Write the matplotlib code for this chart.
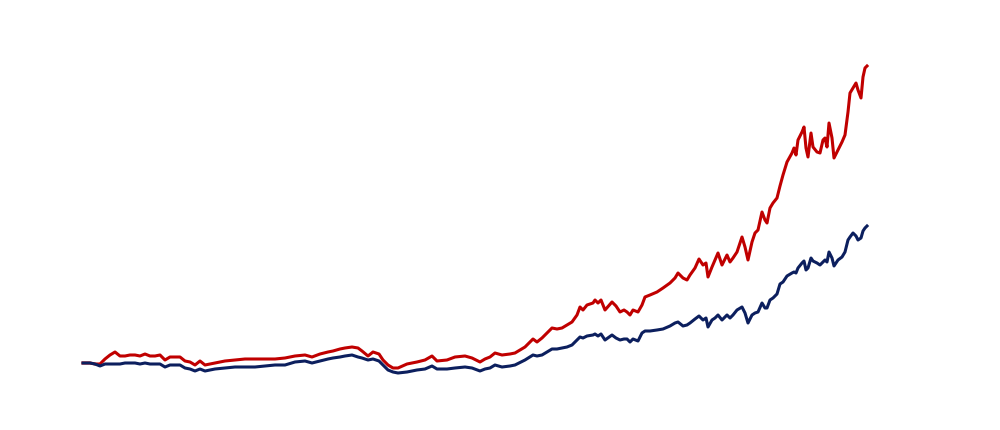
import matplotlib
matplotlib.use("Agg")
import matplotlib.pyplot as plt

# time index (arbitrary units along the period) and index levels of both series
t = [0, 7, 12, 17, 22, 27, 32, 37, 42, 47, 52, 57, 62, 67, 72, 77, 82, 87, 92, 97,
     102, 107, 112, 117, 122, 132, 142, 152, 162, 172, 182, 192, 202, 212, 222, 229,
     237, 245, 250, 257, 262, 269, 275, 279, 285, 290, 296, 300, 305, 310, 315, 324,
     334, 342, 349, 354, 364, 372, 382, 389, 397, 402, 407, 412, 419, 427, 432, 442,
     450, 454, 459, 464, 469, 474, 479, 484, 489, 494, 497, 500, 504, 510, 512, 515,
     518, 522, 529, 533, 537, 541, 544, 547, 550, 555, 559, 562, 567, 574, 580, 587,
     592, 595, 600, 604, 607, 612, 616, 620, 623, 625, 629, 632, 635, 639, 644, 647,
     650, 654, 659, 662, 665, 669, 672, 675, 679, 682, 684, 687, 690, 694, 697, 700,
     704, 709, 711, 713, 715, 719, 721, 723, 725, 728, 730, 734, 737, 740, 742, 744,
     746, 749, 751, 755, 759, 762, 765, 767, 770, 773, 775, 778, 780, 782, 784]

red = [67, 67, 66, 66, 71, 75, 78, 74, 74, 75, 75, 74, 76, 74, 74, 75, 70, 73, 73, 73,
       69, 68, 65, 69, 65, 67, 69, 70, 71, 71, 71, 71, 72, 74, 75, 73,
       76, 78, 79, 81, 82, 83, 82, 79, 74, 78, 76, 70, 65, 62, 62, 66,
       68, 70, 74, 69, 70, 73, 74, 72, 68, 71, 73, 77, 75, 76, 77, 83,
       91, 88, 92, 97, 102, 101, 102, 105, 108, 115, 123, 120, 125, 127, 130, 127,
       130, 120, 128, 124, 118, 120, 118, 115, 120, 118, 125, 133, 135, 138, 142, 147,
       152, 157, 152, 150, 155, 162, 171, 165, 167, 153, 163, 170, 177, 165, 175, 168,
       172, 178, 193, 183, 170, 188, 197, 200, 218, 210, 207, 222, 227, 232, 244, 255,
       268, 277, 282, 275, 290, 298, 303, 282, 273, 297, 283, 278, 277, 290, 292, 283,
       307, 292, 272, 280, 288, 295, 318, 337, 342, 347, 340, 332, 353, 362, 364]

blue = [67, 67, 66, 64, 66, 66, 66, 66, 67, 67, 67, 66, 67, 66, 66, 66, 63, 65, 65, 65,
        62, 61, 59, 61, 59, 61, 62, 63, 63, 63, 64, 65, 65, 68, 69, 67,
        69, 71, 72, 73, 74, 75, 73, 72, 70, 71, 69, 65, 60, 58, 57, 58,
        60, 61, 64, 61, 61, 62, 63, 62, 59, 61, 62, 65, 63, 64, 65, 70,
        75, 74, 75, 78, 81, 81, 82, 83, 85, 90, 93, 92, 94, 95, 96, 94,
        96, 90, 95, 92, 90, 91, 91, 88, 91, 89, 97, 99, 99, 100, 101, 104,
        107, 108, 104, 105, 107, 111, 114, 110, 112, 103, 110, 112, 115, 110, 115, 112,
        115, 120, 123, 117, 107, 115, 117, 118, 127, 122, 122, 130, 132, 136, 146, 148,
        154, 157, 158, 157, 162, 167, 169, 160, 162, 172, 169, 167, 165, 168, 170, 168,
        178, 172, 164, 170, 173, 178, 190, 193, 197, 194, 190, 192, 199, 202, 204]

fig = plt.figure(figsize=(10, 4.3), dpi=100)
ax = fig.add_axes([0, 0, 1, 1])
ax.plot(t, red, color='#c00000', lw=2.2, solid_joinstyle='round')
ax.plot(t, blue, color='#0c1f5e', lw=2.2, solid_joinstyle='round')
ax.set_xlim(-83, 917)
ax.set_ylim(0, 430)
ax.axis('off')

fig.savefig('out.png', dpi=100)
